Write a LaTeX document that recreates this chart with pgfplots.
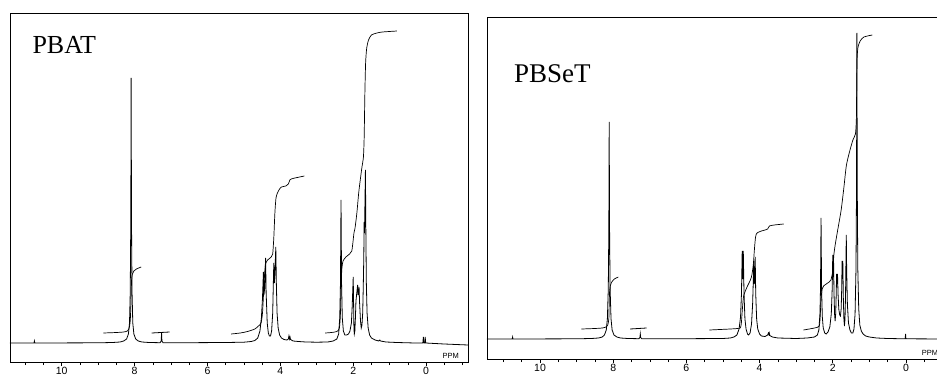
\documentclass[border=0pt]{standalone}
\usepackage{pgfplots}
\pgfplotsset{compat=1.18}
\usepackage{fontspec}
\setmainfont{Liberation Serif}
\newfontfamily\tickfont{Liberation Sans}

\pgfplotsset{
  nmr/.style={
    scale only axis,
    x dir=reverse,
    axis line style={line width=0.8pt},
    xtick={0,2,4,6,8,10},
    minor xtick={-1,-0.5,0.5,1,1.5,2.5,3,3.5,4.5,5,5.5,6.5,7,7.5,8.5,9,9.5,10.5,11},
    xtick pos=left,
    tick align=outside,
    major tick length=4pt,
    minor tick length=3pt,
    tick style={black, line width=0.6pt},
    ytick=\empty,
    ticklabel style={font=\tickfont\fontsize{10.5}{12}\selectfont, inner sep=1pt},
    /pgf/number format/assume math mode=true,
    clip=true,
  },
  spec/.style={black, line width=0.8pt, no markers},
  integ/.style={black, line width=0.7pt, no markers, smooth, tension=0.4},
}

\begin{document}
\begin{tikzpicture}
\path[use as bounding box] (0,0) rectangle (937pt,381pt);

% ---------------- PBAT ----------------
\begin{axis}[nmr, at={(10pt,19pt)}, anchor=south west,
  width=458pt, height=349pt,
  xmin=-1.15, xmax=11.42, ymin=-19, ymax=330]
\addplot[spec] coordinates {
(11.42,0) (10.76,0) (10.75,2) (10.74,0) (9.0,0.2) (8.6,0.5) (8.4,1) (8.3,2) (8.22,4) (8.17,9)
(8.14,20) (8.12,50) (8.105,120) (8.095,265) (8.085,120) (8.07,50) (8.05,20) (8.02,9) (7.97,4)
(7.9,2) (7.8,1) (7.6,0.5) (7.3,0.3) (7.27,2) (7.26,10) (7.25,2) (7.22,0.3) (6.5,0.3) (5.5,0.5)
(5.0,0.8) (4.8,1.5) (4.7,2.5) (4.62,5) (4.56,12) (4.52,25) (4.49,45) (4.465,71) (4.45,48)
(4.43,55) (4.405,85) (4.39,50) (4.36,20) (4.33,10) (4.3,7) (4.27,7) (4.24,12) (4.21,30)
(4.195,55) (4.18,80) (4.165,60) (4.15,68) (4.125,96) (4.11,60) (4.09,30) (4.06,15) (4.02,8)
(3.97,5) (3.9,3.5) (3.82,3) (3.78,4) (3.765,7) (3.75,4) (3.735,6) (3.72,3.5) (3.65,2) (3.5,1.5)
(3.3,1) (3.0,0.8) (2.7,1) (2.55,2) (2.45,4) (2.40,9) (2.37,25) (2.35,60) (2.335,143) (2.32,60)
(2.30,25) (2.27,12) (2.23,8) (2.18,8) (2.13,9) (2.09,12) (2.05,20) (2.03,35) (2.015,50) (2.00,66)
(1.99,40) (1.98,14) (1.97,9) (1.955,12) (1.94,25) (1.925,42) (1.88,58) (1.865,48) (1.85,52)
(1.84,56) (1.825,40) (1.80,22) (1.78,15) (1.76,18) (1.74,30) (1.725,55) (1.71,85) (1.70,121)
(1.69,110) (1.665,173) (1.655,120) (1.64,60) (1.62,30) (1.59,15) (1.55,8) (1.50,5) (1.40,3)
(1.30,2) (1.27,3) (1.25,2) (1.1,1) (0.8,0.5) (0.3,0) (0.09,0) (0.075,6) (0.06,0) (0.035,0)
(0.025,6) (0.01,0) (-0.5,-1) (-1.15,-2)
};
% integrals
\addplot[integ] coordinates {
(8.86,10) (8.5,10.5) (8.3,11) (8.2,12) (8.15,15) (8.12,22) (8.10,40) (8.09,55) (8.08,65)
(8.06,69) (8.02,72) (7.95,74) (7.82,76)
};
\addplot[spec] coordinates {(7.53,10) (7.04,11)};
\addplot[integ] coordinates {
(5.35,9) (5.1,10) (4.9,11.5) (4.7,14) (4.6,17) (4.53,20) (4.49,30) (4.46,50) (4.43,70) (4.40,80)
(4.35,83) (4.25,86) (4.21,89) (4.18,105) (4.15,130) (4.12,145) (4.08,150) (4.04,153) (3.97,156)
(3.85,157) (3.78,159) (3.74,163) (3.7,164) (3.6,165) (3.34,167)
};
\addplot[integ] coordinates {
(2.77,10) (2.6,10.5) (2.45,11.5) (2.38,15) (2.35,30) (2.33,60) (2.31,75) (2.28,82) (2.2,86)
(2.1,89) (2.04,92) (2.01,100) (1.98,110) (1.95,115) (1.9,130) (1.85,150) (1.80,165) (1.76,176)
(1.72,186) (1.70,205) (1.68,250) (1.66,280) (1.63,295) (1.58,303) (1.5,308) (1.35,310)
(1.2,311) (0.8,312)
};
\node[anchor=base west, inner sep=0pt, font=\fontsize{26}{28}\selectfont]
  at (rel axis cs:0.0487,0.8845) {PBAT};
\node[anchor=base west, inner sep=0pt, font=\tickfont\fontsize{7.5}{8}\selectfont]
  at (axis cs:-0.45,-15.5) {PPM};
\end{axis}

% ---------------- PBSeT ----------------
\begin{axis}[nmr, at={(487pt,22pt)}, anchor=south west,
  width=461pt, height=342pt,
  xmin=-1.15, xmax=11.45, ymin=-20, ymax=322]
\addplot[spec] coordinates {
(11.45,0) (10.76,0) (10.75,2) (10.74,0) (9.0,0.2) (8.6,0.5) (8.4,1) (8.3,2) (8.24,4) (8.19,9)
(8.16,20) (8.135,50) (8.12,110) (8.11,217) (8.10,110) (8.085,50) (8.06,20) (8.03,9) (7.98,4)
(7.9,2) (7.8,1) (7.6,0.5) (7.3,0.3) (7.27,1.5) (7.26,5) (7.25,1.5) (7.22,0.3) (6.0,0.3)
(5.0,0.5) (4.8,1) (4.7,2) (4.62,4) (4.56,10) (4.52,22) (4.495,45) (4.475,88) (4.46,60)
(4.445,88) (4.425,45) (4.40,20) (4.37,10) (4.33,5) (4.30,4) (4.26,6) (4.22,15) (4.19,35)
(4.17,60) (4.16,78) (4.145,55) (4.13,60) (4.12,82) (4.105,45) (4.08,20) (4.05,10) (4.0,5)
(3.95,3) (3.85,2.5) (3.78,4) (3.76,6) (3.745,4.5) (3.735,6) (3.72,3.5) (3.65,2) (3.5,1)
(3.0,0.5) (2.7,1) (2.50,2) (2.42,4) (2.38,9) (2.35,25) (2.335,50) (2.32,121) (2.305,50)
(2.285,22) (2.26,11) (2.22,6) (2.18,5) (2.13,7) (2.08,12) (2.04,25) (2.015,50) (2.00,84)
(1.99,62) (1.98,84) (1.965,45) (1.95,25) (1.935,18) (1.92,25) (1.905,45) (1.895,65) (1.88,55)
(1.87,65) (1.855,45) (1.835,30) (1.81,24) (1.79,23) (1.77,30) (1.755,50) (1.745,78) (1.735,62)
(1.725,78) (1.71,40) (1.695,20) (1.68,13) (1.665,20) (1.65,45) (1.64,75) (1.63,104) (1.62,70)
(1.60,35) (1.57,16) (1.53,9) (1.49,6) (1.45,6) (1.42,10) (1.39,25) (1.365,70) (1.35,150)
(1.34,306) (1.33,150) (1.315,70) (1.29,30) (1.26,14) (1.22,8) (1.17,5) (1.10,3) (1.0,2)
(0.8,1) (0.5,0.5) (0.02,0.2) (0.01,5) (0.0,0.2) (-1.15,0)
};
\addplot[integ] coordinates {
(8.87,10) (8.5,10.5) (8.3,11) (8.2,12) (8.15,14) (8.12,20) (8.11,35) (8.10,47) (8.08,53)
(8.04,57) (7.97,60) (7.86,62)
};
\addplot[spec] coordinates {(7.54,10) (7.09,11)};
\addplot[integ] coordinates {
(5.37,9) (4.8,10) (4.6,10.5) (4.53,11) (4.50,15) (4.47,30) (4.44,42) (4.40,47) (4.33,53)
(4.25,59) (4.21,64) (4.17,75) (4.14,90) (4.11,102) (4.07,106) (3.95,108) (3.85,109) (3.78,110)
(3.73,113) (3.6,114) (3.34,115)
};
\addplot[integ] coordinates {
(2.80,9) (2.5,11) (2.37,13) (2.34,25) (2.32,40) (2.29,50) (2.25,53) (2.1,57) (2.05,59)
(2.0,68) (1.97,84) (1.93,95) (1.85,112) (1.77,129) (1.70,150) (1.63,173) (1.55,186)
(1.45,199) (1.38,205) (1.355,220) (1.345,255) (1.335,280) (1.31,292) (1.25,298) (1.15,302)
(0.92,304)
};
\node[anchor=base west, inner sep=0pt, font=\fontsize{27}{29}\selectfont]
  at (rel axis cs:0.0586,0.808) {PBSeT};
\node[anchor=base west, inner sep=0pt, font=\tickfont\fontsize{7.5}{8}\selectfont]
  at (axis cs:-0.43,-16) {PPM};
\end{axis}
\end{tikzpicture}
\end{document}
